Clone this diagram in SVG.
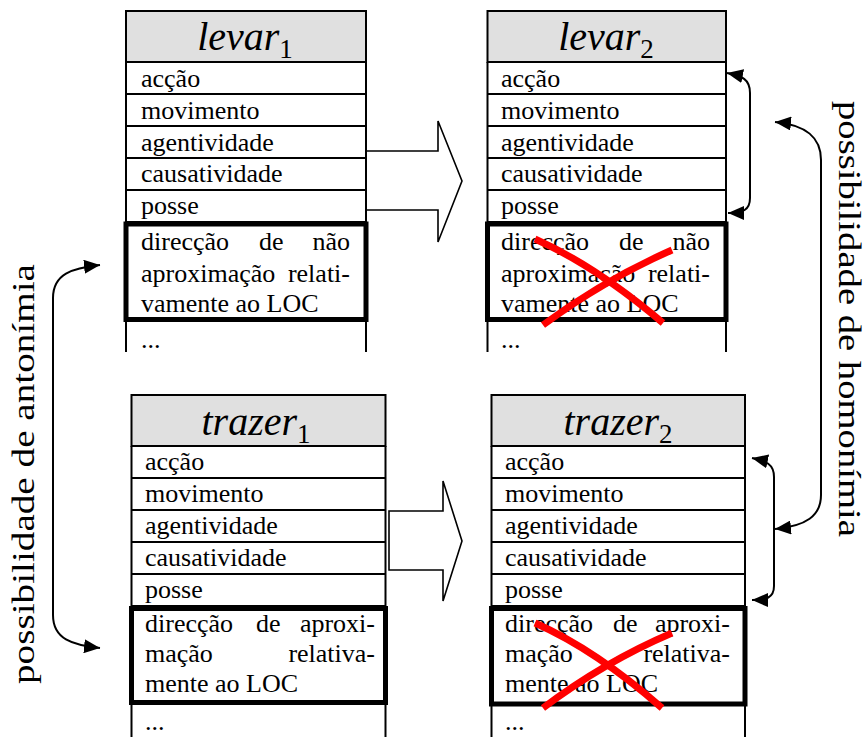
<svg xmlns="http://www.w3.org/2000/svg" width="867" height="737" viewBox="0 0 867 737">
<defs>
<style>
text { font-family: "Liberation Serif", "Times New Roman", serif; fill:#000; }
.row { font-size:26px; }
.hdr { font-size:40px; font-style:italic; }
.sub { font-size:27px; font-style:normal; }
.thin { stroke:#000; stroke-width:2; fill:none; }
.head { fill:#e0e0e0; stroke:#000; stroke-width:2; }
.thick { fill:none; stroke:#000; stroke-width:5; }
.blk { fill:#fff; stroke:#000; stroke-width:1.6; }
.con { fill:none; stroke:#000; stroke-width:2; }
.x { fill:none; stroke:#f00; stroke-width:7; }
.rot { font-size:32px; }
</style>
<marker id="ah" markerUnits="userSpaceOnUse" markerWidth="18" markerHeight="14" refX="16" refY="7" orient="auto-start-reverse" viewBox="0 0 18 14"><path d="M0,0 L16,7 L0,14 z" fill="#000"/></marker>
</defs>
<rect width="867" height="737" fill="#fff"/>

<g id="connectors">
  <polygon id="arrow-levar" class="blk" points="366,151 438,151 438,121 462,181 438,242 438,210 366,210"/>
  <polygon id="arrow-trazer" class="blk" points="389,511 443,511 443,481 462,541 443,601 443,570 389,570"/>
  <path id="con-antonimia" class="con" marker-start="url(#ah)" marker-end="url(#ah)" d="M100,265 C72,268 53,274 53,298 L53,615 C53,639 72,645 100,648"/>
  <path id="con-levar2" class="con" marker-start="url(#ah)" marker-end="url(#ah)" d="M727,73 C742,76 750,79 750,93 L750,198 C750,210 743,213 728,213"/>
  <path id="con-trazer2" class="con" marker-start="url(#ah)" marker-end="url(#ah)" d="M752,458 C766,461 774,464 774,477 L774,586 C774,598 766,600 752,600"/>
  <path id="con-homonimia" class="con" marker-start="url(#ah)" marker-end="url(#ah)" d="M775,122 C806,125 821,137 821,160 L821,495 C821,516 806,526 775,529"/>
  <text id="lbl-antonimia" class="rot" transform="translate(34,474) rotate(-90)" text-anchor="middle" textLength="420" lengthAdjust="spacingAndGlyphs">possibilidade de antonímia</text>
  <text id="lbl-homonimia" class="rot" transform="translate(839,319) rotate(90)" text-anchor="middle" textLength="436" lengthAdjust="spacingAndGlyphs">possibilidade de homonímia</text>
</g>

<g id="levar1">
  <rect class="head" x="126" y="11" width="240" height="51"/>
  <path class="thin" d="M126,62 V352 M366,62 V352 M126,94 H366 M126,126 H366 M126,158 H366 M126,190 H366 M126,222 H366"/>
  <rect class="thick" x="126" y="224" width="240" height="95.5"/>
  <text class="hdr" x="245" y="50" text-anchor="middle">levar<tspan class="sub" dy="8">1</tspan></text>
  <text class="row" x="141" y="87">acção</text>
  <text class="row" x="141" y="119">movimento</text>
  <text class="row" x="141" y="151">agentividade</text>
  <text class="row" x="141" y="182">causatividade</text>
  <text class="row" x="141" y="214">posse</text>
  <text class="row" x="141" y="250">direcção</text>
  <text class="row" x="259" y="250">de</text>
  <text class="row" x="350" y="250" text-anchor="end">não</text>
  <text class="row" x="141" y="282">aproximação</text>
  <text class="row" x="350" y="282" text-anchor="end">relati-</text>
  <text class="row" x="141" y="312">vamente ao LOC</text>
  <text class="row" x="141" y="348">...</text>
</g>

<g id="levar2">
  <rect class="head" x="487.5" y="11" width="238.5" height="51"/>
  <path class="thin" d="M487.5,62 V352 M726,62 V352 M487.5,94 H726 M487.5,126 H726 M487.5,158 H726 M487.5,190 H726 M487.5,222 H726"/>
  <rect class="thick" x="487.5" y="224" width="238.5" height="95.5"/>
  <text class="hdr" x="606" y="50" text-anchor="middle">levar<tspan class="sub" dy="8">2</tspan></text>
  <text class="row" x="501" y="87">acção</text>
  <text class="row" x="501" y="119">movimento</text>
  <text class="row" x="501" y="151">agentividade</text>
  <text class="row" x="501" y="182">causatividade</text>
  <text class="row" x="501" y="214">posse</text>
  <text class="row" x="501" y="250">direcção</text>
  <text class="row" x="619" y="250">de</text>
  <text class="row" x="710" y="250" text-anchor="end">não</text>
  <text class="row" x="501" y="282">aproximação</text>
  <text class="row" x="710" y="282" text-anchor="end">relati-</text>
  <text class="row" x="501" y="312">vamente ao LOC</text>
  <text class="row" x="501" y="348">...</text>
  <path class="x" d="M535,239 Q596,266 663,323"/>
  <path class="x" d="M672,250 Q604,280 543,325"/>
</g>

<g id="trazer1">
  <rect class="head" x="131.5" y="395" width="254" height="51"/>
  <path class="thin" d="M131.5,446 V737 M385.5,446 V737 M131.5,478 H385.5 M131.5,510 H385.5 M131.5,542 H385.5 M131.5,574 H385.5 M131.5,606 H385.5"/>
  <rect class="thick" x="131.5" y="608.5" width="254" height="94"/>
  <text class="hdr" x="256" y="435" text-anchor="middle">trazer<tspan class="sub" dy="8">1</tspan></text>
  <text class="row" x="145" y="470">acção</text>
  <text class="row" x="145" y="502">movimento</text>
  <text class="row" x="145" y="534">agentividade</text>
  <text class="row" x="145" y="566">causatividade</text>
  <text class="row" x="145" y="598">posse</text>
  <text class="row" x="145" y="632">direcção</text>
  <text class="row" x="256" y="632">de</text>
  <text class="row" x="375" y="632" text-anchor="end">aproxi-</text>
  <text class="row" x="145" y="662">mação</text>
  <text class="row" x="375" y="662" text-anchor="end">relativa-</text>
  <text class="row" x="145" y="692">mente ao LOC</text>
  <text class="row" x="145" y="730">...</text>
</g>

<g id="trazer2">
  <rect class="head" x="491.5" y="395" width="253.5" height="51"/>
  <path class="thin" d="M491.5,446 V737 M745,446 V737 M491.5,478 H745 M491.5,510 H745 M491.5,542 H745 M491.5,574 H745 M491.5,606 H745"/>
  <rect class="thick" x="491.5" y="608.5" width="253.5" height="95.5"/>
  <text class="hdr" x="618" y="435" text-anchor="middle">trazer<tspan class="sub" dy="8">2</tspan></text>
  <text class="row" x="505" y="470">acção</text>
  <text class="row" x="505" y="502">movimento</text>
  <text class="row" x="505" y="534">agentividade</text>
  <text class="row" x="505" y="566">causatividade</text>
  <text class="row" x="505" y="598">posse</text>
  <text class="row" x="505" y="632">direcção</text>
  <text class="row" x="613" y="632">de</text>
  <text class="row" x="730" y="632" text-anchor="end">aproxi-</text>
  <text class="row" x="505" y="662">mação</text>
  <text class="row" x="730" y="662" text-anchor="end">relativa-</text>
  <text class="row" x="505" y="692">mente ao LOC</text>
  <text class="row" x="505" y="730">...</text>
  <path class="x" d="M535,623 Q596,650 662,708"/>
  <path class="x" d="M672,633 Q604,662 543,708"/>
</g>
</svg>
